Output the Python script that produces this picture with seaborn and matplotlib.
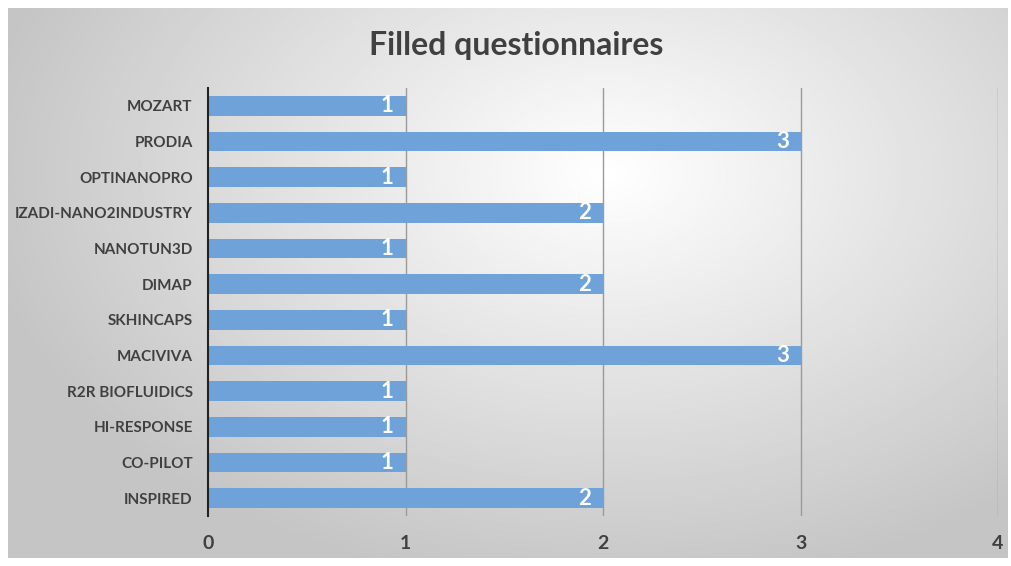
import numpy as np
import pandas as pd
import matplotlib.pyplot as plt
import seaborn as sns

projects = ["MOZART", "PRODIA", "OPTINANOPRO", "IZADI-NANO2INDUSTRY", "NANOTUN3D",
            "DIMAP", "SKHINCAPS", "MACIVIVA", "R2R BIOFLUIDICS", "HI-RESPONSE",
            "CO-PILOT", "INSPIRED"]
counts = [1, 3, 1, 2, 1, 2, 1, 3, 1, 1, 1, 2]
x_ticks = [0, 1, 2, 3, 4]

sns.set_style("white")
plt.rcParams['font.family'] = ['Lato', 'DejaVu Sans']

df = pd.DataFrame({"project": projects, "count": counts})

fig = plt.figure(figsize=(10.12, 5.66), dpi=100)

# radial gradient background, light near upper middle, grey towards the edges
bg = fig.add_axes([8 / 1012, 8 / 566, 1000 / 1012, 550 / 566])
yy, xx = np.mgrid[0:1:300j, 0:1:500j]
r = np.sqrt(((xx - 0.6) / 0.75) ** 2 + ((yy - 0.3) / 0.9) ** 2)
shade = np.clip(1.0 - 0.27 * r, 0.77, 1.0)
bg.imshow(shade, cmap="gray", vmin=0, vmax=1, aspect="auto",
          extent=[0, 1, 0, 1], origin="upper")
bg.axis("off")

ax = fig.add_axes([208 / 1012, 1 - 516 / 566, 790 / 1012, 428 / 566])
ax.patch.set_alpha(0)
sns.barplot(data=df, x="count", y="project", orient="h", color="#6fa2d8",
            saturation=1, width=0.56, linewidth=0, ax=ax, zorder=3)

ax.set_xlim(0, 4)
ax.set_ylim(11.5, -0.5)
ax.set_xticks(x_ticks)
ax.set_xticklabels([str(t) for t in x_ticks], fontsize=14, fontweight="bold", color="#404040")
ax.tick_params(axis="x", length=0, pad=14)
ax.tick_params(axis="y", length=0, pad=11)
for lbl in ax.get_yticklabels():
    lbl.set_fontsize(11)
    lbl.set_fontweight("bold")
    lbl.set_color("#404040")
ax.set_xlabel("")
ax.set_ylabel("")
for t in x_ticks[1:]:
    ax.axvline(t, color="#9a9a9a", lw=1, zorder=1)
for s in ["top", "right", "bottom"]:
    ax.spines[s].set_visible(False)
ax.spines["left"].set_color("#222222")
ax.spines["left"].set_linewidth(1.5)
ax.spines["left"].set_zorder(4)

for i, v in enumerate(counts):
    ax.text(v - 0.06, i, str(v), ha="right", va="center", color="white",
            fontsize=16, fontweight="bold", zorder=5)

fig.text(516 / 1012, 1 - 45 / 566, "Filled questionnaires", ha="center", va="center",
         fontsize=23, fontweight="bold", color="#404040")

fig.savefig("out.png", dpi=100)
